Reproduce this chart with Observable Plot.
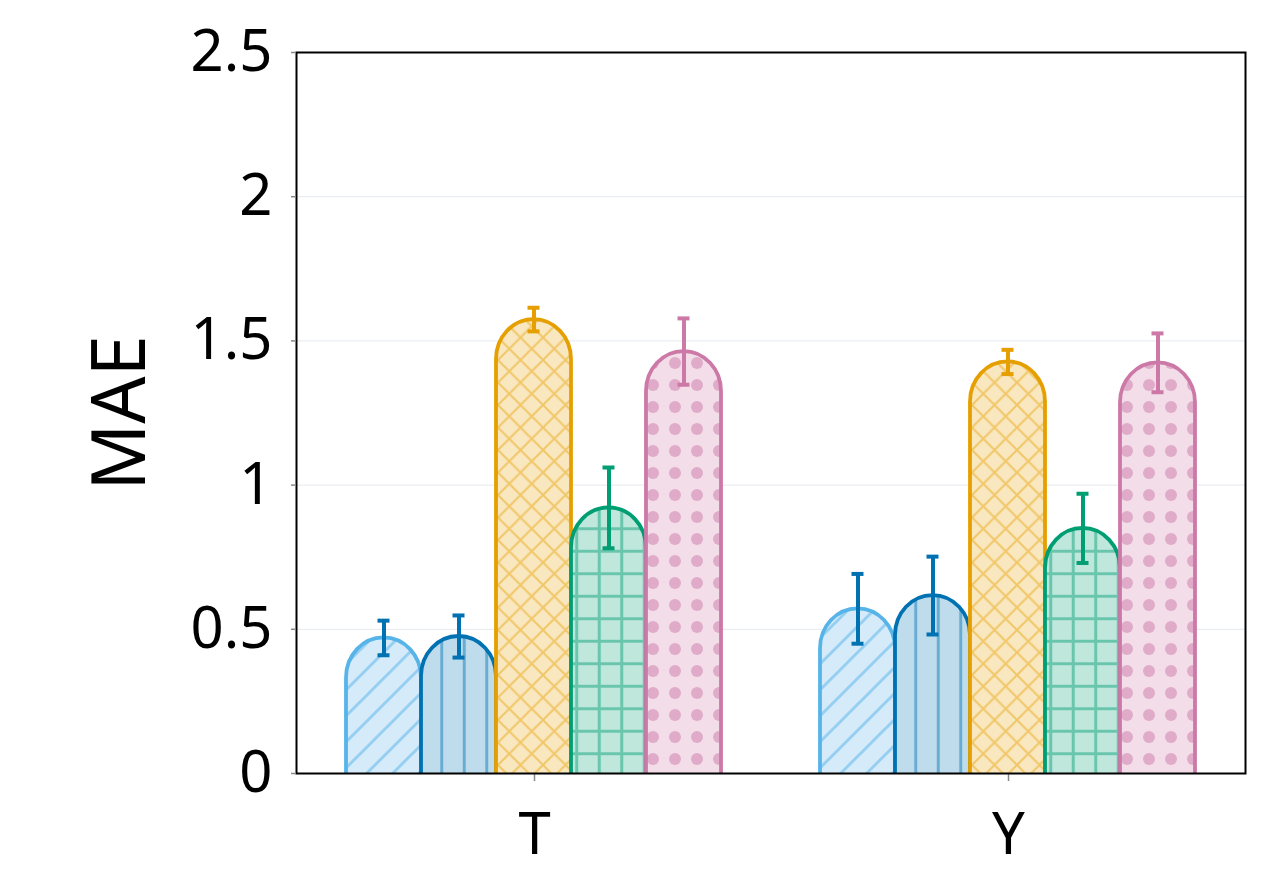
<!DOCTYPE html>
<html><head><meta charset="utf-8">
<script src="https://cdn.jsdelivr.net/npm/d3@7"></script>
<script src="https://cdn.jsdelivr.net/npm/@observablehq/plot@0.6"></script>
<style>
body{margin:0;background:#fff}
#chart{position:relative;width:1262px;height:890px}
#chart svg{position:absolute;left:0;top:0}
</style>
</head><body><div id="chart"></div>
<script>
const groups = ["T", "Y"];
const series = ["s1", "s2", "s3", "s4", "s5"];
const valuesT = [0.470, 0.475, 1.574, 0.921, 1.463];
const errorsT = [0.060, 0.073, 0.041, 0.140, 0.115];
const valuesY = [0.571, 0.617, 1.427, 0.850, 1.424];
const errorsY = [0.121, 0.135, 0.042, 0.120, 0.102];
const yTicks = [0, 0.5, 1, 1.5, 2, 2.5];
const gridTicks = [0.5, 1, 1.5, 2];
const strokeColors = ["#56B4E9", "#0072B2", "#E69F00", "#009E73", "#CC79A7"];
const errorColors = ["#0072B2", "#0072B2", "#E69F00", "#009E73", "#CC79A7"];

const rows = [];
groups.forEach((g, gi) => {
  const vals = gi === 0 ? valuesT : valuesY;
  const errs = gi === 0 ? errorsT : errorsY;
  series.forEach((s, si) => rows.push({group: g, series: s, si, value: vals[si], error: errs[si]}));
});

const fontFamily = "'Noto Sans', sans-serif";
const margins = {marginLeft: 296, marginRight: 17, marginTop: 52};
const yScale = {domain: [0, 2.5], axis: null};
const groupScale = {domain: groups, paddingInner: 0.2, paddingOuter: 0.1, label: null};

// Layer 1: grid + group axis
const basePlot = Plot.plot({
  width: 1262, height: 890, ...margins, marginBottom: 117,
  style: {fontFamily, fontSize: "58px", color: "black", background: "white"},
  x: {...groupScale, axis: null},
  y: yScale,
  marks: [
    Plot.gridY(gridTicks, {stroke: "#e4e8ee", strokeOpacity: 1, strokeWidth: 1}),
    Plot.axisX({anchor: "bottom", tickSize: 8, tickPadding: 31, stroke: "#888", strokeWidth: 1.5, fill: "black", label: null})
  ]
});

// Layer 2: bars (faceted by group); SVG ends at the frame bottom so the bar bottoms are cut flat
const barMarks = series.map((s, i) => Plot.barY(rows.filter(d => d.si === i), {
  fx: "group", x: "series", y1: 0, y2: "value",
  fill: `url(#pat${i})`, stroke: strokeColors[i], strokeWidth: 3.8,
  rx: 40, insetBottom: -50
}));
const errMarks = series.flatMap((s, i) => {
  const data = rows.filter(d => d.si === i);
  return [
    Plot.ruleX(data, {fx: "group", x: "series", y1: d => d.value - d.error, y2: d => d.value + d.error, stroke: errorColors[i], strokeWidth: 4}),
    Plot.tickY(data, {fx: "group", x: "series", y: d => d.value - d.error, stroke: errorColors[i], strokeWidth: 4, insetLeft: 31.5, insetRight: 31.5}),
    Plot.tickY(data, {fx: "group", x: "series", y: d => d.value + d.error, stroke: errorColors[i], strokeWidth: 4, insetLeft: 31.5, insetRight: 31.5})
  ];
});
const barPlot = Plot.plot({
  width: 1262, height: 773, ...margins, marginBottom: 0,
  style: {fontFamily, background: "transparent", overflow: "hidden"},
  fx: {...groupScale, axis: null},
  x: {domain: series, padding: 0, axis: null},
  y: yScale,
  marks: [...barMarks, ...errMarks]
});

// Layer 3: frame, y axis, label
const axisPlot = Plot.plot({
  width: 1262, height: 890, ...margins, marginBottom: 117,
  style: {fontFamily, fontSize: "58px", color: "black", background: "transparent"},
  x: {axis: null},
  y: yScale,
  marks: [
    Plot.frame({stroke: "black", strokeWidth: 2}),
    Plot.axisY(yTicks, {tickFormat: d => String(d), tickSize: 5, tickPadding: 19, stroke: "#888", strokeWidth: 1.5, fill: "black", label: null}),
    Plot.text(["MAE"], {frameAnchor: "left", text: d => d, rotate: -90, dx: -175, fontSize: 74, textAnchor: "middle", lineAnchor: "middle", fill: "black"})
  ]
});

const defs = d3.select(barPlot).insert("defs", ":first-child");
function pat(id, w, h, bg) {
  const p = defs.append("pattern").attr("id", id).attr("patternUnits", "userSpaceOnUse").attr("width", w).attr("height", h);
  p.append("rect").attr("width", w).attr("height", h).attr("fill", bg);
  return p;
}
let p = pat("pat0", 26, 26, "#d6ebf9");
p.append("path").attr("d", "M-6,6 L6,-6 M0,26 L26,0 M20,32 L32,20").attr("stroke", "#56B4E9").attr("stroke-opacity", 0.5).attr("stroke-width", 3);
p = pat("pat1", 22.5, 10, "#bfdcec");
p.append("path").attr("d", "M11.25,0 V10").attr("stroke", "#0072B2").attr("stroke-opacity", 0.45).attr("stroke-width", 3);
p = pat("pat2", 22.5, 22.5, "#f9e7bf");
p.append("path").attr("d", "M0,0 L22.5,22.5 M22.5,0 L0,22.5").attr("stroke", "#E69F00").attr("stroke-opacity", 0.45).attr("stroke-width", 2);
p = pat("pat3", 22.5, 22.5, "#bfe7dc");
p.append("path").attr("d", "M11.25,0 V22.5 M0,11.25 H22.5").attr("stroke", "#009E73").attr("stroke-opacity", 0.45).attr("stroke-width", 3);
p = pat("pat4", 22, 22, "#f2dde9");
p.append("circle").attr("cx", 11).attr("cy", 11).attr("r", 6).attr("fill", "#CC79A7").attr("fill-opacity", 0.5);

const chart = document.getElementById("chart");
chart.appendChild(basePlot);
chart.appendChild(barPlot);
chart.appendChild(axisPlot);
</script>
</body></html>
